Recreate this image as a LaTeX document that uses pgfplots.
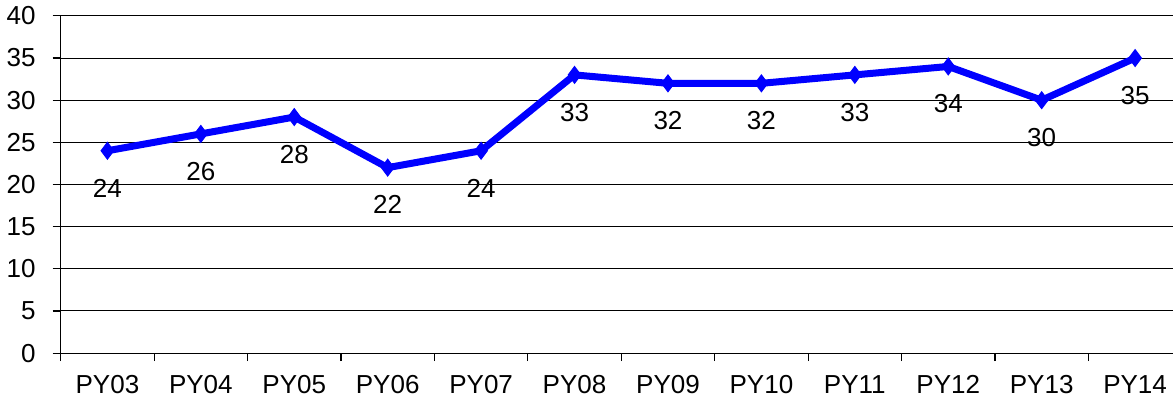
\documentclass[border=0pt]{standalone}
\usepackage{fontspec}
\setmainfont{Liberation Sans}
\usepackage{pgfplots}
\pgfplotsset{compat=1.18}
\definecolor{lineblue}{RGB}{0,0,255}

\begin{document}
\begin{tikzpicture}
\begin{axis}[
    scale only axis,
    width=556pt,
    height=168.5pt,
    xmin=-0.5, xmax=11.41,
    ymin=0, ymax=40,
    ytick={0,5,...,40},
    xtick={0,...,11},
    xticklabels={PY03,PY04,PY05,PY06,PY07,PY08,PY09,PY10,PY11,PY12,PY13,PY14},
    minor xtick={-0.5,0.5,...,10.5},
    axis x line*=bottom,
    axis y line*=left,
    axis line style={black, line width=0.6pt, -},
    ymajorgrids,
    grid style={black, line width=0.5pt},
    major x tick style={draw=none},
    minor x tick style={black, line width=0.6pt},
    ytick style={black, line width=0.6pt},
    tick align=outside,
    major tick length=4pt,
    minor tick length=4pt,
    tick label style={font=\fontsize{13}{15}\selectfont},
    /pgf/number format/assume math mode=true,
    xticklabel style={yshift=-3.7pt},
    yticklabel style={xshift=-5pt},
    nodes near coords,
    nodes near coords style={anchor=north, yshift=-10.5pt, font=\fontsize{13}{15}\selectfont, black},
    clip=false,
]
\addplot[color=lineblue, line width=3.5pt, mark=diamond*, mark size=4.2pt,
    mark options={solid, fill=lineblue, line width=0.5pt}] coordinates {
    (0,24) (1,26) (2,28) (3,22) (4,24) (5,33)
    (6,32) (7,32) (8,33) (9,34) (10,30) (11,35)
};
\end{axis}
\end{tikzpicture}
\end{document}
